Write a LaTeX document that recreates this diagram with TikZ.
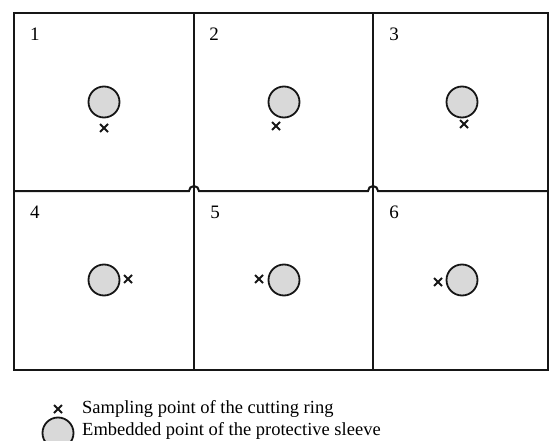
\documentclass[tikz,border=0pt]{standalone}
\usepackage{fontspec}
\setmainfont{Liberation Serif}
\definecolor{gridc}{HTML}{161616}
\definecolor{sleevefill}{HTML}{D9D9D9}
\tikzset{
  gridline/.style={line width=2pt, draw=gridc},
  sleeve/.style={circle, minimum size=31pt, inner sep=0pt, draw=gridc, fill=sleevefill, line width=1.8pt},
  lbl/.style={font=\fontsize{19}{22}\selectfont, inner sep=0pt},
  legtext/.style={font=\fontsize{18.5}{22}\selectfont, inner sep=0pt, anchor=west},
  xcross/.pic={\draw[line width=2pt, draw=gridc] (-4,-4) -- (4,4) (-4,4) -- (4,-4);}
}
\begin{document}
\begin{tikzpicture}[x=1pt,y=-1pt]
\useasboundingbox (0,0) rectangle (549,441);
\clip (0,0) rectangle (549,441);
% grid
\draw[gridline] (14,13) rectangle (548,370);
\draw[gridline] (194,13) -- (194,370);
\draw[gridline] (373,13) -- (373,370);
\draw[gridline] (14,191) -- (189,191) arc[start angle=180, end angle=0, radius=5pt]
  -- (368,191) arc[start angle=180, end angle=0, radius=5pt] -- (548,191);
% cell numbers
\node[lbl] (n1) at (35,34) {1};
\node[lbl] (n2) at (214,34) {2};
\node[lbl] (n3) at (394,34) {3};
\node[lbl] (n4) at (35,212) {4};
\node[lbl] (n5) at (215,212) {5};
\node[lbl] (n6) at (394,212) {6};
% sleeves
\node[sleeve] (c1) at (104,102) {};
\node[sleeve] (c2) at (284,102) {};
\node[sleeve] (c3) at (462,102) {};
\node[sleeve] (c4) at (104,280) {};
\node[sleeve] (c5) at (284,280) {};
\node[sleeve] (c6) at (462,280) {};
% sampling points
\pic (x1) at (104,128) {xcross};
\pic (x2) at (276,126) {xcross};
\pic (x3) at (464,124) {xcross};
\pic (x4) at (128,279) {xcross};
\pic (x5) at (259,279) {xcross};
\pic (x6) at (438,282) {xcross};
% legend
\pic (lx) at (58,409) {xcross};
\node[legtext] (t1) at (82,409) {Sampling point of the cutting ring};
\node[sleeve] (lc) at (58,433) {};
\node[legtext] (t2) at (82,431) {Embedded point of the protective sleeve};
\end{tikzpicture}
\end{document}
